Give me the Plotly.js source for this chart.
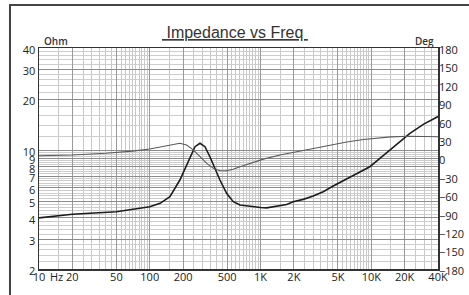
<!DOCTYPE html>
<html>
<head>
<meta charset="utf-8">
<script src="https://cdn.plot.ly/plotly-3.0.1.min.js"></script>
<style>html,body{margin:0;padding:0;background:#fff;}#chart{width:469px;height:295px;}</style>
</head>
<body>
<div id="chart"></div>
<script>
// Impedance magnitude (Ohm) vs frequency (Hz)
const freqZ = [10, 20, 50, 100, 124, 152, 187, 231, 256, 284, 315, 349, 430, 494, 567, 652, 800, 1000, 1135, 1300, 1500, 1720, 1970, 2430, 2990, 3680, 4530, 5570, 6870, 8450, 9700, 11960, 14720, 18120, 22300, 30000, 40000];
const ohm   = [4.0, 4.2, 4.35, 4.65, 4.87, 5.33, 6.68, 9.16, 10.5, 11.0, 10.5, 9.16, 6.68, 5.58, 4.98, 4.76, 4.67, 4.6, 4.58, 4.65, 4.76, 4.8, 4.98, 5.14, 5.38, 5.7, 6.16, 6.6, 7.15, 7.65, 8.0, 8.96, 10.0, 11.2, 12.58, 14.3, 15.8];
// Phase (degrees) vs frequency (Hz)
const freqP = [10, 20, 40, 70, 100, 137, 160, 187, 215, 247, 284, 327, 375, 430, 494, 567, 652, 800, 1060, 1500, 2100, 3000, 4200, 6000, 8500, 10000, 15000, 22000, 30000, 40000];
const deg   = [4.5, 5.8, 8.5, 12, 15.5, 20, 23, 24.8, 22, 14, 3, -8, -16, -20, -20, -17.6, -13.4, -7.8, -1, 5.7, 11, 16.6, 21.5, 27, 31, 32.5, 35.3, 36.2, 35.8, 35.5];
// Tick labels
const xTickVals = [10, 20, 50, 100, 200, 500, 1000, 2000, 5000, 10000, 20000, 40000];
const xTickText = ['10', '20', '50', '100', '200', '500', '1K', '2K', '5K', '10K', '20K', '40K'];
const yTickVals = [2, 3, 4, 5, 6, 7, 8, 9, 10, 20, 30, 40];
const yTickText = ['2', '3', '4', '5', '6', '7', '8', '9', '10', '20', '30', '40'];
const y2TickVals = [-180, -150, -120, -90, -60, -30, 0, 30, 60, 90, 120, 150, 180];

// grid helpers (styling only)
const xMinor = [];
[10, 100, 1000, 10000].forEach(function (d) {
  for (let m = 1.5; m < 10; m += 0.5) {
    const v = Math.round(m * d);
    if (v <= 40000 && xTickVals.indexOf(v) < 0) xMinor.push(v);
  }
});
const yMinor = [];
for (let v = 2.2; v < 6.95; v += 0.2) { const r = Math.round(v * 10) / 10; if (yTickVals.indexOf(r) < 0) yMinor.push(r); }
for (let v = 7.25; v < 10; v += 0.25) { const r = Math.round(v * 100) / 100; if (yTickVals.indexOf(r) < 0) yMinor.push(r); }
for (let v = 12; v < 40; v += 2) { if (yTickVals.indexOf(v) < 0) yMinor.push(v); }

const tickFont = {family: 'Open Sans, sans-serif', size: 11, color: '#222'};

const traces = [
  {x: freqP, y: deg, yaxis: 'y2', type: 'scatter', mode: 'lines',
   line: {color: '#5a5a5a', width: 1.1}, hoverinfo: 'skip', showlegend: false},
  {x: freqZ, y: ohm, yaxis: 'y', type: 'scatter', mode: 'lines',
   line: {color: '#1c1c1c', width: 1.6}, hoverinfo: 'skip', showlegend: false}
];

const layout = {
  width: 469, height: 295,
  margin: {l: 39, r: 31, t: 48, b: 26, pad: 0},
  paper_bgcolor: '#fff', plot_bgcolor: '#fff',
  showlegend: false,
  title: {text: '<u>\u00a0Impedance vs Freq\u00a0</u>', font: {family: 'Liberation Sans, Arial, sans-serif', size: 16, color: '#333'},
          x: 0.491, xref: 'paper', xanchor: 'center', y: 0.89, yref: 'container', yanchor: 'middle'},
  xaxis: {type: 'log', range: [1, Math.log10(40000)], tickmode: 'array', tickvals: xTickVals, ticktext: xTickText,
          showgrid: true, gridcolor: '#9a9a9a', gridwidth: 1, zeroline: false,
          showline: true, mirror: true, linecolor: '#333', linewidth: 1.5, ticks: '', tickfont: tickFont,
          ticklabelstandoff: -3,
          minor: {tickmode: 'array', tickvals: xMinor, showgrid: true, gridcolor: '#c8c8c8', gridwidth: 1, ticks: ''}},
  yaxis: {type: 'log', range: [Math.log10(2), Math.log10(40)], tickmode: 'array', tickvals: yTickVals, ticktext: yTickText,
          showgrid: true, gridcolor: '#8c8c8c', gridwidth: 1, zeroline: false,
          showline: true, mirror: true, linecolor: '#333', linewidth: 1.5, ticks: '', tickfont: tickFont,
          ticklabelshift: 2,
          minor: {tickmode: 'array', tickvals: yMinor, showgrid: true, gridcolor: '#cdcdcd', gridwidth: 1, ticks: ''}},
  yaxis2: {overlaying: 'y', side: 'right', range: [-180, 180], tickmode: 'array', tickvals: y2TickVals,
           showgrid: false, zeroline: false, showline: false, ticks: '', tickfont: tickFont, ticklabelshift: 2},
  shapes: [
    {type: 'rect', xref: 'paper', x0: 0, x1: 1, yref: 'y', y0: Math.log10(7), y1: 1,
     fillcolor: '#e0e0e0', line: {width: 0}, layer: 'below'},
    {type: 'rect', xref: 'paper', yref: 'paper', x0: -0.0727, x1: 1.3, y0: -0.3, y1: 1.1946,
     fillcolor: 'rgba(0,0,0,0)', line: {color: '#444', width: 2}, layer: 'above'}
  ],
  annotations: [
    {text: 'Ohm', xref: 'paper', x: 0.0075, xanchor: 'left', yref: 'paper', y: 1.032, yanchor: 'middle',
     showarrow: false, font: {family: 'Open Sans, sans-serif', size: 10, color: '#333', weight: 600}},
    {text: 'Deg', xref: 'paper', x: 0.995, xanchor: 'right', yref: 'paper', y: 1.032, yanchor: 'middle',
     showarrow: false, font: {family: 'Open Sans, sans-serif', size: 10, color: '#333', weight: 600}},
    {text: 'Hz', xref: 'x', x: Math.log10(14.5), xanchor: 'center', yref: 'paper', y: -0.036, yanchor: 'middle',
     showarrow: false, font: tickFont}
  ]
};

Plotly.newPlot('chart', traces, layout, {staticPlot: true, displayModeBar: false});
</script>
</body>
</html>
